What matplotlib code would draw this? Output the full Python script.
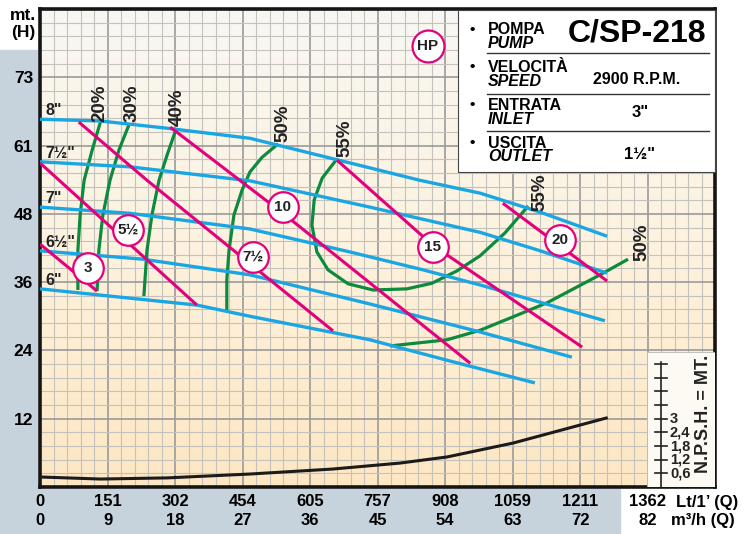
import numpy as np
import matplotlib
matplotlib.use("Agg")
from matplotlib import pyplot as plt
from matplotlib.patches import Rectangle
from matplotlib.lines import Line2D
from matplotlib.colors import LinearSegmentedColormap

NARROW = ['Liberation Sans Narrow', 'Liberation Sans', 'DejaVu Sans']
WIDE = ['Liberation Sans', 'DejaVu Sans']
plt.rcParams['font.family'] = NARROW
plt.rcParams['font.weight'] = 'bold'

W, H = 746, 534

# one major grid square
Q_STEP = 151.4   # l/min
H_STEP = 12.2    # m
Q_MAX = 10 * Q_STEP
H_MAX = 7 * H_STEP

Q_LABELS = ["0", "151", "302", "454", "605", "757", "908", "1059", "1211", "1362"]
M3H_LABELS = ["0", "9", "18", "27", "36", "45", "54", "63", "72", "82"]
H_LABELS = ["", "12", "24", "36", "48", "61", "73", ""]

# head curves, one per impeller diameter
DIAMETERS = ['8"', '7½"', '7"', '6½"', '6"']
Q_8 = [0, 135, 285, 471, 695, 852, 987, 1122, 1272]
H_8 = [65.7, 65.4, 64.1, 62.3, 57.9, 54.8, 52.5, 49.1, 44.8]
Q_75 = [0, 202, 471, 740, 987, 1122, 1272]
H_75 = [58.1, 57.2, 54.7, 50.0, 45.5, 42.2, 38.2]
Q_7 = [0, 202, 471, 695, 859, 987, 1122, 1267]
H_7 = [50.0, 48.9, 46.1, 42.0, 38.8, 36.1, 33.0, 29.7]
Q_65 = [0, 231, 471, 740, 987, 1193]
H_65 = [42.2, 40.7, 37.9, 32.7, 27.7, 23.2]
Q_6 = [0, 352, 471, 740, 920, 1110]
H_6 = [35.4, 32.5, 30.5, 26.3, 22.5, 18.6]

# absorbed power lines (HP)
HP_LABELS = ["3", "5½", "7½", "10", "15", "20"]
HP_Q = [[0, 128], [0, 352], [87, 240, 657], [292, 545, 965],
        [666, 881, 1216], [1038, 1272]]
HP_H = [[43.4, 35.0], [57.9, 32.5], [65.2, 54.8, 27.9], [64.3, 48.9, 22.1],
        [58.4, 43.2, 25.0], [50.7, 36.8]]
HP_MARK_Q = [108, 197, 478, 545, 881, 1166]
HP_MARK_H = [39.1, 45.9, 41.1, 50.0, 42.9, 44.1]

# efficiency iso-curves
EFF_LABELS = ["20%", "30%", "40%", "50%", "55%", "50%"]
EFF_Q = [
    [137, 117, 99, 90, 85, 85],
    [200, 177, 157, 141, 132, 128],
    [305, 285, 267, 251, 240, 233],
    [534, 498, 471, 453, 435, 424, 419, 419],
    [666, 633, 615, 610, 621, 646, 691, 747, 823, 879, 935, 987, 1043, 1095],
    [785, 913, 987, 1061, 1137, 1256, 1319],
]
EFF_H = [
    [65.6, 60.2, 54.8, 48.6, 42.3, 35.2],
    [64.8, 60.2, 54.8, 48.6, 42.3, 35.0],
    [63.9, 59.3, 54.8, 48.6, 42.3, 34.1],
    [61.3, 58.9, 56.3, 53.0, 48.6, 42.3, 37.0, 31.6],
    [58.6, 55.2, 51.3, 46.8, 42.0, 38.8, 36.3, 35.2, 35.4, 36.4, 38.6, 41.3, 45.4, 50.2],
    [25.2, 26.3, 28.0, 30.4, 32.9, 37.9, 40.7],
]

# NPSH required (m)
Q_NPSH = [0, 135, 285, 471, 657, 807, 913, 1061, 1211, 1270]
NPSH = [0.44, 0.35, 0.40, 0.57, 0.79, 1.05, 1.32, 1.93, 2.72, 3.03]
NPSH_TICKS = [0.6, 1.2, 1.8, 2.4, 3.0, 3.6, 4.2, 4.8, 5.4]
NPSH_TICK_LABELS = ["0,6", "1,2", "1,8", "2,4", "3"]
NPSH_SCALE = (H_STEP / 5) / 0.6   # one minor square = 0.6 m NPSH

BLUE = '#1aa6e2'
MAGENTA = '#e4007c'
GREEN = '#0c8a3e'


def fpos(x, y):
    # pixel position -> figure fraction
    return x / W, 1 - y / H


fig = plt.figure(figsize=(W / 100, H / 100), dpi=100)
fig.patch.set_facecolor('white')

# textured margins of the original, as flat tint
fig.add_artist(Rectangle(fpos(0, 534), 37 / W, (534 - 50) / H,
                         transform=fig.transFigure, color='#c6d3dc', zorder=-2))
fig.add_artist(Rectangle(fpos(0, 534), 620 / W, 45 / H,
                         transform=fig.transFigure, color='#c6d3dc', zorder=-2))

ax = fig.add_axes([40 / W, (H - 487) / H, 675 / W, 478 / H])
ax.set_xlim(0, Q_MAX)
ax.set_ylim(0, H_MAX)

cmap = LinearSegmentedColormap.from_list('paper', ['#fde7c3', '#fdf2de', '#f8f7f3'])
ax.imshow(np.linspace(0, 1, 256).reshape(-1, 1), extent=[0, Q_MAX, 0, H_MAX],
          origin='lower', aspect='auto', cmap=cmap, zorder=-1)

ax.set_xticks(np.arange(0, Q_MAX + 1, Q_STEP))
ax.set_xticks(np.arange(0, Q_MAX + 1, Q_STEP / 5), minor=True)
ax.set_yticks(np.arange(0, H_MAX + 0.1, H_STEP))
ax.set_yticks(np.arange(0, H_MAX + 0.1, H_STEP / 5), minor=True)
ax.set_xticklabels([])
ax.set_yticklabels(H_LABELS, fontsize=12.5)
ax.tick_params(which='both', length=0, pad=5)
ax.grid(which='minor', color='#c4c2bd', linewidth=0.8)
ax.grid(which='major', color='#9a9a9a', linewidth=1.2)
ax.set_axisbelow(True)
for sp in ax.spines.values():
    sp.set_linewidth(2.6)
    sp.set_color('#151515')

# flow labels, two rows
xt = ax.get_xaxis_transform()
for i in range(len(Q_LABELS)):
    ax.text(i * Q_STEP, -0.031, Q_LABELS[i], transform=xt, ha='center', va='center',
            fontsize=12)
    ax.text(i * Q_STEP, -0.071, M3H_LABELS[i], transform=xt, ha='center', va='center',
            fontsize=12)
fig.text(*fpos(676, 502), "Lt/1’ (Q)", ha='left', va='center', fontsize=12)
fig.text(*fpos(671, 521), "m³/h (Q)", ha='left', va='center', fontsize=12)
fig.text(*fpos(23, 15), "mt.", ha='center', va='center', fontsize=12.5)
fig.text(*fpos(23, 33), "(H)", ha='center', va='center', fontsize=12.5)

# efficiency curves
for q, h in zip(EFF_Q, EFF_H):
    ax.plot(q, h, color=GREEN, linewidth=2.3, solid_capstyle='butt', zorder=2)
eff_offsets = [(-0.7, 12.2), (2.2, 15.1), (0.7, 15.8), (3.6, 15.1), (5.8, 15.1)]
for i, (dx, dy) in enumerate(eff_offsets):
    ax.annotate(EFF_LABELS[i], (EFF_Q[i][0], EFF_H[i][0]), xytext=(dx, dy),
                textcoords='offset points', rotation=90, ha='center', va='center',
                fontsize=13.5, color='#222', zorder=6)
ax.annotate(EFF_LABELS[4], (EFF_Q[4][-1], EFF_H[4][-1]), xytext=(8.6, 10.1),
            textcoords='offset points', rotation=90, ha='center', va='center',
            fontsize=13.5, color='#222', zorder=6)
ax.annotate(EFF_LABELS[5], (EFF_Q[5][-1], EFF_H[5][-1]), xytext=(10.1, 12.2),
            textcoords='offset points', rotation=90, ha='center', va='center',
            fontsize=13.5, color='#222', zorder=6)

# head curves
for lab, q, h in zip(DIAMETERS, [Q_8, Q_75, Q_7, Q_65, Q_6], [H_8, H_75, H_7, H_65, H_6]):
    ax.plot(q, h, color=BLUE, linewidth=2.4, solid_capstyle='butt', zorder=3)
    ax.text(12, h[0] + 1.5, lab, ha='left', va='center', fontsize=11.5, color='#222',
            zorder=6)

# power lines with circled labels
for q, h in zip(HP_Q, HP_H):
    ax.plot(q, h, color=MAGENTA, linewidth=2.2, solid_capstyle='butt', zorder=4)
for lab, q, h in zip(HP_LABELS, HP_MARK_Q, HP_MARK_H):
    ax.plot(q, h, 'o', ms=22, mfc='white', mec=MAGENTA, mew=1.6, zorder=5)
    ax.text(q, h, lab, ha='center', va='center', fontsize=11, color='#222', zorder=6)
ax.plot(870, 78.8, 'o', ms=23, mfc='white', mec=MAGENTA, mew=1.6, zorder=5)
ax.text(870, 78.8, "HP", ha='center', va='center', fontsize=11, color='#222', zorder=6)

# NPSH curve and its own scale
ax.plot(Q_NPSH, np.array(NPSH) * NPSH_SCALE, color='#1b1b1b', linewidth=2.2, zorder=3)
ax.add_patch(Rectangle((1361, 0), Q_MAX - 1361, 24.1, facecolor='#fdfaf3',
                       edgecolor='#b8b8b8', linewidth=0.6, zorder=5))
ax.plot([1393, 1393], [0, 22.3], color='#222', linewidth=1.2, zorder=6)
for i, t in enumerate(NPSH_TICKS):
    ax.plot([1379, 1407], [t * NPSH_SCALE] * 2, color='#222', linewidth=1.2, zorder=6)
    if i < len(NPSH_TICK_LABELS):
        ax.text(1413, t * NPSH_SCALE, NPSH_TICK_LABELS[i], ha='left', va='center',
                fontsize=10.5, color='#222', zorder=7, linespacing=0.8)
ax.text(1488, 13.0, "N.P.S.H. = MT.", rotation=90, ha='center', va='center',
        fontsize=13, color='#222', zorder=7)

# data plate
fig.add_artist(Rectangle(fpos(458, 172), (715 - 458) / W, (172 - 10) / H,
                         transform=fig.transFigure, facecolor='white',
                         edgecolor='#444', linewidth=0.8, zorder=5))
for y in [53, 94, 131]:
    fig.add_artist(Line2D([487 / W, 709 / W], [1 - y / H] * 2, color='#333',
                          linewidth=1.0, transform=fig.transFigure, zorder=6))
rows = [("POMPA", "PUMP", 30, 44), ("VELOCITÀ", "SPEED", 67, 81),
        ("ENTRATA", "INLET", 105, 119), ("USCITA", "OUTLET", 143, 157)]
for it, en, y1, y2 in rows:
    fig.text(*fpos(472, y1), "•", ha='center', va='center', fontsize=11,
             family=WIDE, zorder=7)
    fig.text(*fpos(488, y1), it, ha='left', va='center', fontsize=11.5,
             family=WIDE, zorder=7)
    fig.text(*fpos(488, y2), en, ha='left', va='center', fontsize=11.5,
             family=WIDE, style='italic', zorder=7)
fig.text(*fpos(637, 34), "C/SP-218", ha='center', va='center', fontsize=23,
         family=WIDE, zorder=7)
fig.text(*fpos(637, 79), "2900 R.P.M.", ha='center', va='center', fontsize=11.5,
         family=WIDE, zorder=7)
fig.text(*fpos(640, 112), '3"', ha='center', va='center', fontsize=12,
         family=WIDE, zorder=7)
fig.text(*fpos(640, 155), '1½"', ha='center', va='center', fontsize=12,
         family=WIDE, zorder=7)

fig.savefig('out.png', dpi=100)
